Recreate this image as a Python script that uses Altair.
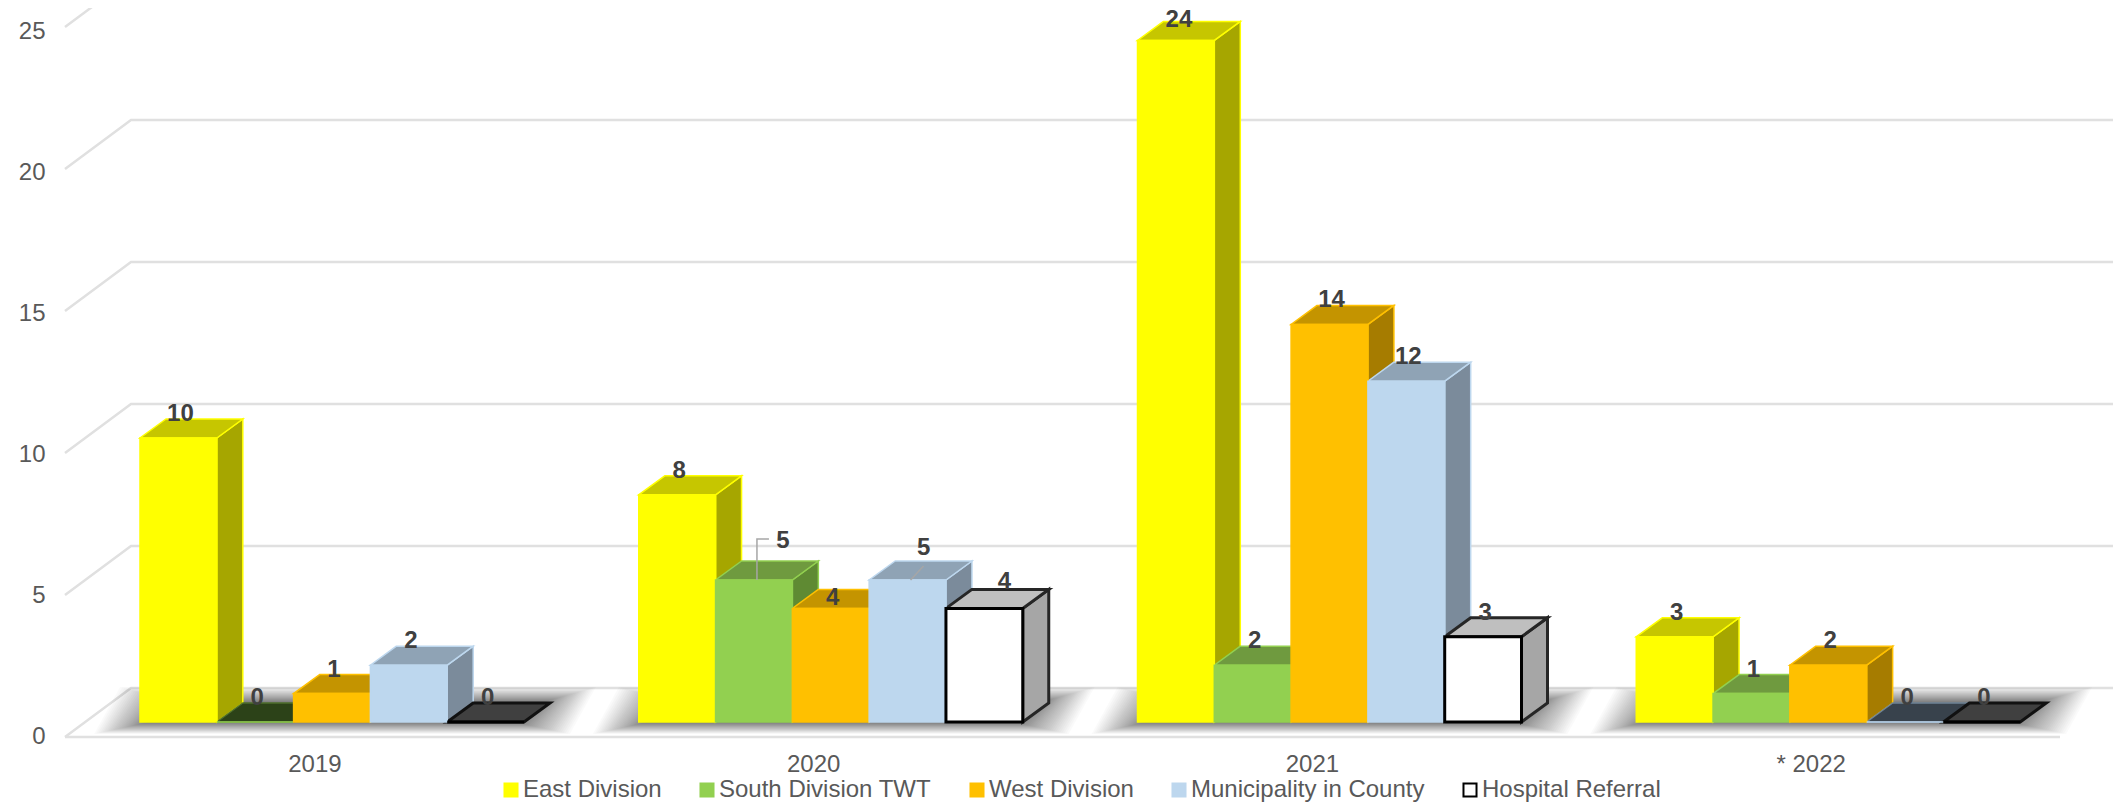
import json
import altair as alt
import pandas as pd

categories = ["2019", "2020", "2021", "* 2022"]
series = ["East Division", "South Division TWT", "West Division", "Municipality in County", "Hospital Referral"]
east = [10, 8, 24, 3]
south = [0, 5, 2, 1]
west = [1, 4, 14, 2]
muni = [2, 5, 12, 0]
hospital = [0, 4, 3, 0]
values = [east, south, west, muni, hospital]

front_colors = ["#FFFF00", "#92D050", "#FFC000", "#BDD7EE", "#FFFFFF"]
stroke_colors = ["#FFFF00", "#92D050", "#FFC000", "#BDD7EE", "#000000"]
side_colors = ["#A6A600", "#5F8A33", "#A67C00", "#7B8B9B", "#A6A6A6"]
top_colors = ["#C6C600", "#6F9A3F", "#C49400", "#8FA3B5", "#BFBFBF"]
zero_top_colors = ["#3A3A00", "#2C4218", "#4A3800", "#38424C", "#404040"]
edge_colors = ["#FFFF00", "#92D050", "#FFC000", "#BDD7EE", "#262626"]
zero_edge_colors = ["#3A3A00", "#4E6F2C", "#4A3800", "#6F8496", "#111111"]
line_widths = [1.5, 1.5, 1.5, 1.5, 3]

# scale: one x unit is one category band, one y unit is one case
BAND = 498.75
UNIT = 28.4
W, H = 2048, 729
bar_start = 75 / BAND
bar_w = 76.8 / BAND
depth_x = 26 / BAND
depth_y = 19 / UNIT
base = 15 / UNIT
floor_x = 66 / BAND
floor_y = 49 / UNIT
x_end = W / BAND
px = lambda p: p / BAND
py = lambda p: p / UNIT

# (category, series): label nudge in pixels
label_nudge = {(1, 1): (29, 39), (1, 2): (2, 10), (1, 3): (16, 32), (1, 4): (20, 26), (2, 0): (3, 20)}
# (category, series): leader line bends in pixels from the bar's top centre
leaders = {(1, 1): [(3, 0), (3, 41), (15, 41)], (1, 3): [(3, 0), (16, 14)]}

fronts, sides, tops, labels, leader_rows, shadows, grid = [], [], [], [], [], [], []
for c in range(len(categories)):
    for s in range(len(series)):
        v = values[s][c]
        x0 = c + bar_start + s * bar_w
        x1 = x0 + bar_w
        y0, yt = base, base + v
        fronts.append(dict(x=x0, x2=x1, y=y0, y2=yt, series=series[s], sw=line_widths[s]))
        sid = f"{c}-{s}"
        if v > 0:
            for xx, d in ((x1, 0), (x1 + depth_x, depth_y)):
                sides.append(dict(id=sid, x=xx, y=y0 + d, y2=yt + d, fill=side_colors[s], edge=edge_colors[s], sw=line_widths[s]))
        for yy, d in ((yt, 0), (yt + depth_y, depth_x)):
            tops.append(dict(id=sid, y=yy, x=x0 + d, x2=x1 + d,
                             fill=top_colors[s] if v > 0 else zero_top_colors[s],
                             edge=edge_colors[s] if v > 0 else zero_edge_colors[s], sw=line_widths[s]))
        ndx, ndy = label_nudge.get((c, s), (2, 24))
        labels.append(dict(x=(x0 + x1) / 2 + px(ndx), y=yt + py(ndy), t=str(v)))
        for i, (lx, ly) in enumerate(leaders.get((c, s), [])):
            leader_rows.append(dict(id=sid, o=i, x=(x0 + x1) / 2 + px(lx), y=yt + py(ly)))

# soft floor shadow under each group: stacked translucent footprints
shadow_levels = 36
for c in range(len(categories)):
    xl = c + bar_start
    xr = xl + 5 * bar_w
    for lv in range(shadow_levels):
        f = (lv / (shadow_levels - 1)) ** 1.3
        gx, gup, gdn = 46 * f, 16 * f, 12 * f
        sid = f"{c}-{lv}"
        # the footprint is inset at its inner levels so its corners fade round
        inset = 10 * (1 - f)
        shadows.append(dict(id=sid, y=base - py(gdn), x=xl - px(gx - inset), x2=xr + px(gx - inset)))
        shadows.append(dict(id=sid, y=base + depth_y + py(gup), x=xl + depth_x - px(gx - inset), x2=xr + depth_x + px(gx - inset)))

for tick in [0, 5, 10, 15, 20, 25]:
    grid.append(dict(id=tick, o=0, x=0, y=tick))
    grid.append(dict(id=tick, o=1, x=floor_x, y=tick + floor_y))
    grid.append(dict(id=tick, o=2, x=x_end, y=tick + floor_y))
front_line = [dict(x=0, y=0), dict(x=4.0, y=0)]

x_scale = alt.Scale(domain=[0, x_end], range=[0, W], nice=False, zero=False)
y_scale = alt.Scale(domain=[0, H / UNIT], range=[H, 0], nice=False, zero=False)
FONT = "Liberation Sans"
tick_expr = "%s[floor(datum.value)]" % json.dumps(categories)

x_axis = alt.Axis(title=None, values=[0.5, 1.5, 2.5, 3.5], labelExpr=tick_expr, grid=False, domain=False, ticks=False,
                  labelFontSize=24, labelFont=FONT, labelColor="#595959", labelPadding=15, labelFlush=False, labelOverlap=False)
y_axis = alt.Axis(title=None, values=[0, 5, 10, 15, 20, 25], grid=False, domain=False, ticks=False,
                  labelFontSize=24, labelFont=FONT, labelColor="#595959", labelPadding=20,
                  labelOffset=alt.ExprRef("datum.value / 5 - 1"))
X = alt.X("x:Q", scale=x_scale, axis=x_axis)
Y = alt.Y("y:Q", scale=y_scale, axis=y_axis)

grid_layer = alt.Chart(pd.DataFrame(grid)).mark_line(color="#E0E0E0", strokeWidth=2.5).encode(
    x=X, y=Y, detail="id:N", order="o:Q")

front_line_layer = alt.Chart(pd.DataFrame(front_line)).mark_line(color="#E0E0E0", strokeWidth=2.5).encode(x=X, y=Y)

shadow_layer = alt.Chart(pd.DataFrame(shadows)).mark_area(orient="horizontal", color="#000000", opacity=0.02).encode(
    y=Y, x=X, x2="x2:Q", detail="id:N")

side_layer = alt.Chart(pd.DataFrame(sides)).mark_area(orient="vertical").encode(
    x=X, y=Y, y2="y2:Q",
    fill=alt.Fill("fill:N", scale=None), stroke=alt.Stroke("edge:N", scale=None),
    strokeWidth=alt.StrokeWidth("sw:Q", scale=None), detail="id:N")

top_layer = alt.Chart(pd.DataFrame(tops)).mark_area(orient="horizontal").encode(
    y=Y, x=X, x2="x2:Q",
    fill=alt.Fill("fill:N", scale=None), stroke=alt.Stroke("edge:N", scale=None),
    strokeWidth=alt.StrokeWidth("sw:Q", scale=None), detail="id:N")

front_layer = alt.Chart(pd.DataFrame(fronts)).mark_rect().encode(
    x=X, x2="x2:Q", y=Y, y2="y2:Q",
    fill=alt.Fill("series:N", scale=alt.Scale(domain=series, range=front_colors), legend=alt.Legend(
        title=None, orient="none", legendX=434, legendY=770, direction="horizontal", columns=5,
        symbolType="square", symbolSize=170, symbolStrokeWidth=2, labelFont=FONT, labelFontSize=24,
        labelColor="#595959", labelLimit=400, labelOffset=0, columnPadding=33, padding=0)),
    stroke=alt.Stroke("series:N", scale=alt.Scale(domain=series, range=stroke_colors)),
    strokeWidth=alt.StrokeWidth("sw:Q", scale=None))

leader_layer = alt.Chart(pd.DataFrame(leader_rows)).mark_line(color="#A6A6A6", strokeWidth=1.5).encode(
    x=X, y=Y, detail="id:N", order="o:Q")

label_layer = alt.Chart(pd.DataFrame(labels)).mark_text(
    font=FONT, fontSize=24, fontWeight="bold", color="#404040", align="center", baseline="middle").encode(
    x=X, y=Y, text="t:N")

chart = alt.layer(grid_layer, front_line_layer, shadow_layer, side_layer, top_layer, front_layer, leader_layer, label_layer).properties(
    width=W, height=H, padding={"left": 57, "top": 0, "right": 0, "bottom": 66},
    autosize=alt.AutoSizeParams(type="none"), background="#FFFFFF",
).configure_view(stroke=None)

chart.save("out.html", embed_options={"renderer": "svg", "actions": False})
